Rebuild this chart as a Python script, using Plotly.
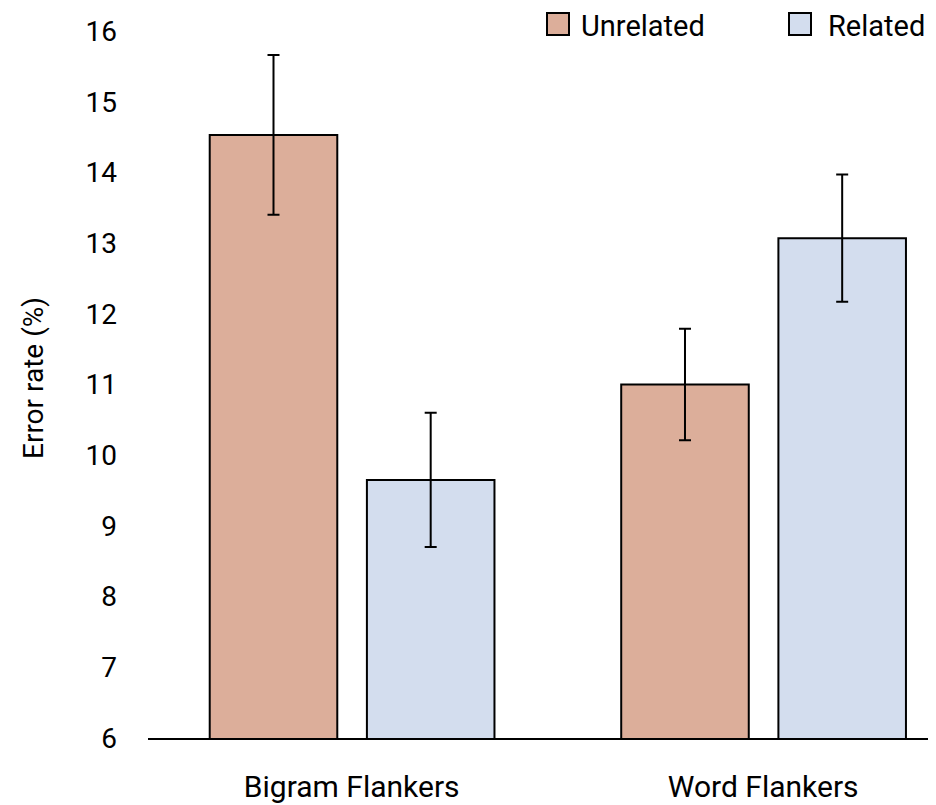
import plotly.graph_objects as go

categories = ["Bigram Flankers", "Word Flankers"]
unrelated = [14.53, 11.0]
unrelated_err = [1.13, 0.79]
related = [9.65, 13.07]
related_err = [0.95, 0.9]
y_ticks = [6, 7, 8, 9, 10, 11, 12, 13, 14, 15, 16]

FONT = "Roboto, sans-serif"
C_UNREL = "#DCAE9A"
C_REL = "#D3DDEE"

# page offset of the plot div (default body margin)
OFF = 8
W, H = 936 - OFF, 805 - OFF
L, R, T, B = 148 - OFF, 0, 31 - OFF, 67

fig = go.Figure()
fig.add_trace(go.Bar(
    x=categories, y=unrelated, name="Unrelated",
    marker=dict(color=C_UNREL, line=dict(color="black", width=2)),
    width=0.31, offset=-0.345,
    error_y=dict(type="data", array=unrelated_err, color="black", thickness=2, width=6),
    showlegend=False,
))
fig.add_trace(go.Bar(
    x=categories, y=related, name="Related",
    marker=dict(color=C_REL, line=dict(color="black", width=2)),
    width=0.31, offset=0.037,
    error_y=dict(type="data", array=related_err, color="black", thickness=2, width=6),
    showlegend=False,
))

pw = W - L - R
ph = H - T - B
def px(x):  # page pixel x -> paper
    return (x - OFF - L) / pw
def py(y):  # page pixel y -> paper
    return (H - B - (y - OFF)) / ph

legend_items = [("Unrelated", C_UNREL, 547, 580, "left"), ("Related", C_REL, 789, 926, "right")]
for name, col, bx, tx, anc in legend_items:
    fig.add_shape(type="rect", xref="paper", yref="paper",
                  x0=px(bx), x1=px(bx + 22), y0=py(35), y1=py(13),
                  fillcolor=col, line=dict(color="black", width=2))
    fig.add_annotation(text=name, xref="paper", yref="paper",
                       x=px(tx), y=py(26), xanchor=anc, yanchor="middle",
                       borderpad=0, showarrow=False,
                       font=dict(size=29, color="black", family=FONT))

fig.add_annotation(text="Error rate (%)", xref="paper", yref="paper",
                   x=px(33), y=py(378), xanchor="center", yanchor="middle",
                   textangle=-90, showarrow=False,
                   font=dict(size=28, color="black", family=FONT))

fig.update_layout(
    width=W, height=H,
    margin=dict(l=L, r=R, t=T, b=B),
    plot_bgcolor="white", paper_bgcolor="white",
    font=dict(family=FONT, size=28, color="black"),
    barmode="group",
    xaxis=dict(range=[-0.495, 1.42], showline=True, linecolor="black", linewidth=2,
               ticks="", showgrid=False, ticklabelstandoff=21, automargin=False,
               tickfont=dict(size=30)),
    yaxis=dict(range=[6, 16], tickvals=y_ticks, showgrid=False, zeroline=False,
               showline=False, ticks="", ticklabelstandoff=30, automargin=False,
               tickfont=dict(size=28)),
)

fig.write_html("out.html")
